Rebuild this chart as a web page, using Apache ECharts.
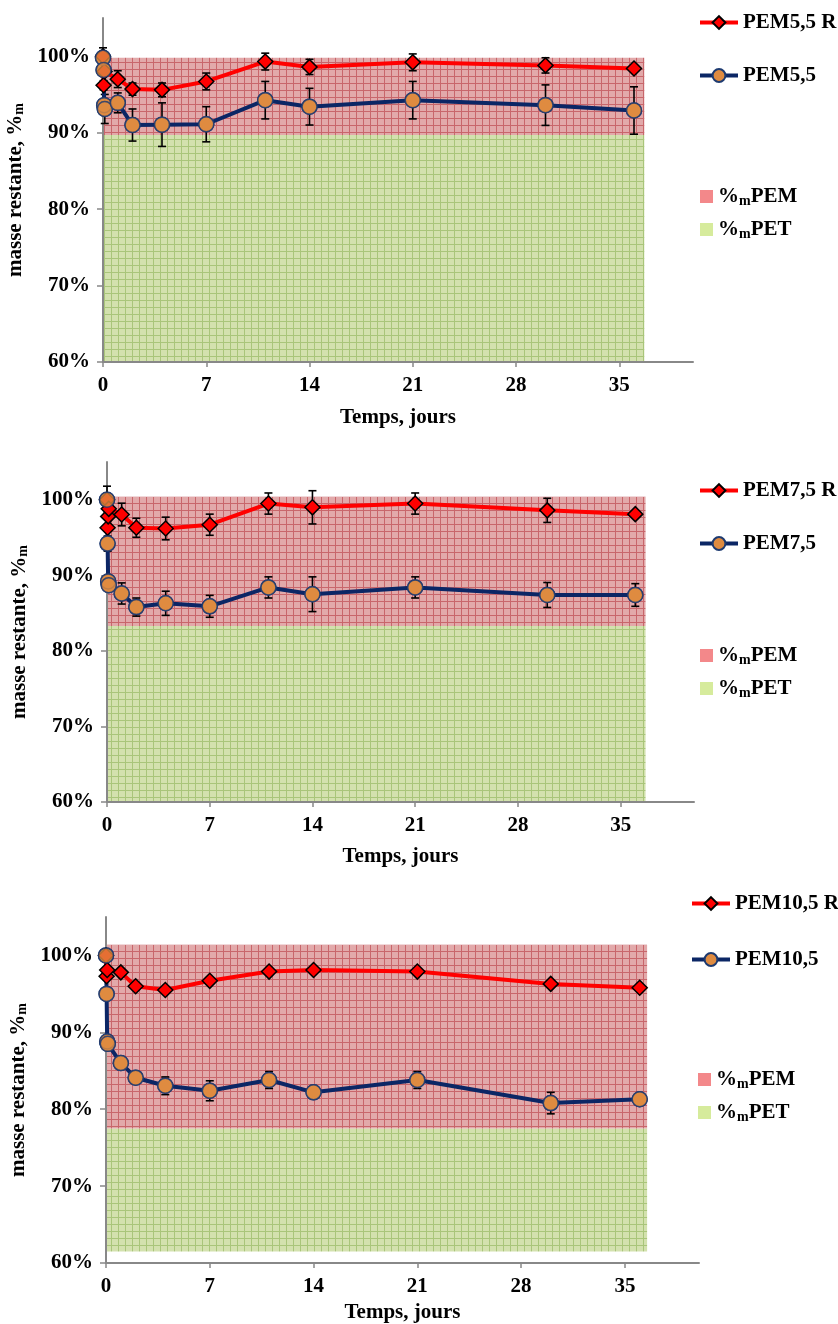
<!DOCTYPE html>
<html><head><meta charset="utf-8">
<script src="https://cdn.jsdelivr.net/npm/echarts@6/dist/echarts.min.js"></script>
<style>html,body{margin:0;padding:0;background:#fff}#c{width:838px;height:1324px}</style>
</head><body><div id="c"></div>
<script>
// ---------- data ----------
const xTicks = [0, 7, 14, 21, 28, 35];
const yTicks = [60, 70, 80, 90, 100];
const bandNames = ['%mPEM', '%mPET'];

// chart 1 : PEM5,5
const names1 = ['PEM5,5 R', 'PEM5,5'];
const daysR1 = [0, 0.04, 0.1, 1, 2, 4, 7, 11, 14, 21, 30, 36];
const valR1 = [100, 96.2, 98.0, 97.0, 95.7, 95.6, 96.7, 99.3, 98.6, 99.2, 98.8, 98.4];
const errR1 = [0, 0.6, 0, 1.1, 0.8, 0.9, 1.1, 1.1, 1.0, 1.1, 1.0, 0];
const daysB1 = [0, 0.04, 0.08, 0.12, 1, 2, 4, 7, 11, 14, 21, 30, 36];
const valB1 = [99.8, 98.2, 93.6, 93.1, 93.9, 91.0, 91.05, 91.1, 94.25, 93.4, 94.25, 93.6, 92.9];
const errB1 = [1.3, 0, 0, 1.9, 1.3, 2.1, 2.85, 2.3, 2.45, 2.4, 2.45, 2.65, 3.1];
const band1 = [60, 89.7, 99.8];   // base, PET top, PEM top
const bandEnd1 = 36.7;

// chart 2 : PEM7,5
const names2 = ['PEM7,5 R', 'PEM7,5'];
const daysR2 = [0, 0.04, 0.08, 0.12, 1, 2, 4, 7, 11, 14, 21, 30, 36];
const valR2 = [100, 96.3, 97.8, 98.8, 98.05, 96.3, 96.2, 96.7, 99.5, 99.0, 99.5, 98.6, 98.1];
const errR2 = [0, 0, 0, 0, 1.5, 1.26, 1.5, 1.4, 1.4, 2.2, 1.4, 1.6, 0];
const daysB2 = [0, 0.04, 0.08, 0.12, 1, 2, 4, 7, 11, 14, 21, 30, 36];
const valB2 = [100, 94.2, 89.2, 88.7, 87.6, 85.8, 86.3, 85.9, 88.4, 87.5, 88.4, 87.4, 87.4];
const errB2 = [1.8, 1.0, 0, 0.8, 1.4, 1.2, 1.6, 1.45, 1.4, 2.3, 1.4, 1.65, 1.5];
const band2 = [60, 83.3, 100.4];
const bandEnd2 = 36.7;

// chart 3 : PEM10,5
const names3 = ['PEM10,5 R', 'PEM10,5'];
const daysR3 = [0, 0.04, 0.08, 1, 2, 4, 7, 11, 14, 21, 30, 36];
const valR3 = [100, 97.3, 98.1, 97.8, 96.0, 95.5, 96.7, 97.9, 98.1, 97.9, 96.3, 95.8];
const errR3 = [0, 0, 0, 0, 0, 0, 0, 0, 0, 0, 0, 0];
const daysB3 = [0, 0.04, 0.08, 0.12, 1, 2, 4, 7, 11, 14, 21, 30, 36];
const valB3 = [100, 95.0, 88.8, 88.5, 86.0, 84.1, 83.05, 82.4, 83.8, 82.2, 83.8, 80.8, 81.3];
const errB3 = [0, 0, 0, 0, 0.5, 0.6, 1.15, 1.3, 1.1, 0, 1.1, 1.4, 0];
const band3 = [61.5, 77.5, 101.4];
const bandEnd3 = 36.5;

// ---------- layout ----------
const grids = [
  {left: 103, top: 18, width: 590, height: 344, outerBoundsMode: 'none'},
  {left: 107, top: 462, width: 587, height: 340, outerBoundsMode: 'none'},
  {left: 106, top: 917, width: 593, height: 346, outerBoundsMode: 'none'}
];
const xNameGaps = [45, 44, 39];
const lineLegendPos = [[698, 12, 32], [698, 480, 32], [690, 893, 35]];
const bandLegendPos = [[700, 186], [700, 645], [698, 1069]];

const FONT = 'Liberation Serif';
const FS = 21;
const RED = '#ff0000', NAVY = '#0b2665', ORANGE = '#df8b40';

function gridPattern(bg, line, step) {
  const c = document.createElement('canvas');
  c.width = step; c.height = step;
  const g = c.getContext('2d');
  g.fillStyle = bg; g.fillRect(0, 0, step, step);
  g.fillStyle = line;
  g.fillRect(step - 1, 0, 1, step);
  g.fillRect(0, step - 1, step, 1);
  return {image: c, repeat: 'repeat'};
}
const pemPattern = gridPattern('#e2a9aa', '#c8666b', 7);
const petPattern = gridPattern('#d3e1ae', '#a9c57a', 7);

function renderErr(params, api) {
  const x = api.value(0), y = api.value(1), e = api.value(2);
  const t = api.coord([x, y + e]), b = api.coord([x, y - e]);
  const w = 4;
  const st = {stroke: '#000', lineWidth: 1.6};
  return {type: 'group', children: [
    {type: 'line', shape: {x1: t[0], y1: t[1], x2: b[0], y2: b[1]}, style: st},
    {type: 'line', shape: {x1: t[0] - w, y1: t[1], x2: t[0] + w, y2: t[1]}, style: st},
    {type: 'line', shape: {x1: b[0] - w, y1: b[1], x2: b[0] + w, y2: b[1]}, style: st}
  ]};
}
function bandRenderer(pattern) {
  return function (params, api) {
    const p0 = api.coord([api.value(0), api.value(2)]);
    const p1 = api.coord([api.value(1), api.value(3)]);
    return {type: 'rect', shape: {x: p0[0], y: p1[1], width: p1[0] - p0[0], height: p0[1] - p1[1]},
      style: {fill: pattern}};
  };
}
const zip = (xs, ys) => xs.map((x, i) => [x, ys[i]]);
const zipErr = (xs, ys, es) => xs.map((x, i) => [x, ys[i], es[i]]).filter(d => d[2] > 0);

const subRich = {sub: {fontFamily: FONT, fontWeight: 'bold', fontSize: 14, color: '#000', padding: [9, 0, 0, 0]}};

const option = {animation: false, grid: [], xAxis: [], yAxis: [], series: [], legend: []};

const charts = [
  {names: names1, dR: daysR1, vR: valR1, eR: errR1, dB: daysB1, vB: valB1, eB: errB1, band: band1, end: bandEnd1},
  {names: names2, dR: daysR2, vR: valR2, eR: errR2, dB: daysB2, vB: valB2, eB: errB2, band: band2, end: bandEnd2},
  {names: names3, dR: daysR3, vR: valR3, eR: errR3, dB: daysB3, vB: valB3, eB: errB3, band: band3, end: bandEnd3}
];

const blueItem = {color: ORANGE, borderColor: '#1d3a70', borderWidth: 1.5};
const redItem = {color: RED, borderColor: '#000', borderWidth: 1.5};

charts.forEach((c, i) => {
  option.grid.push(grids[i]);
  option.xAxis.push({
    type: 'value', gridIndex: i, min: 0, max: 40,
    name: 'Temps, jours', nameLocation: 'middle', nameGap: xNameGaps[i],
    nameTextStyle: {fontFamily: FONT, fontWeight: 'bold', fontSize: FS, color: '#000'},
    axisLine: {show: true, onZero: false, lineStyle: {color: '#888', width: 2}},
    axisTick: {show: true, customValues: xTicks, length: 5, lineStyle: {color: '#888', width: 1.5}},
    axisLabel: {customValues: xTicks, margin: 13, fontFamily: FONT, fontWeight: 'bold', fontSize: FS, color: '#000'},
    splitLine: {show: false}
  });
  option.yAxis.push({
    type: 'value', gridIndex: i, min: 60, max: 105,
    name: 'masse restante, %{sub|m}', nameLocation: 'middle', nameGap: 65,
    nameTextStyle: {fontFamily: FONT, fontWeight: 'bold', fontSize: FS, color: '#000', rich: subRich},
    axisLine: {show: true, lineStyle: {color: '#888', width: 2}},
    axisTick: {show: true, customValues: yTicks, length: 6, lineStyle: {color: '#888', width: 1.5}},
    axisLabel: {customValues: yTicks, margin: 13, formatter: v => v + '%',
      fontFamily: FONT, fontWeight: 'bold', fontSize: FS, color: '#000'},
    splitLine: {show: false}
  });
  // bands
  option.series.push({
    type: 'custom', name: bandNames[1], xAxisIndex: i, yAxisIndex: i, z: 0,
    itemStyle: {color: '#d6eb9c'}, encode: {x: [0, 1], y: [2, 3]},
    data: [[0, c.end, c.band[0], c.band[1]]], renderItem: bandRenderer(petPattern), silent: true
  });
  option.series.push({
    type: 'custom', name: bandNames[0], xAxisIndex: i, yAxisIndex: i, z: 0,
    itemStyle: {color: '#f3888a'}, encode: {x: [0, 1], y: [2, 3]},
    data: [[0, c.end, c.band[1], c.band[2]]], renderItem: bandRenderer(pemPattern), silent: true
  });
  // error bars
  option.series.push({type: 'custom', xAxisIndex: i, yAxisIndex: i, z: 1, encode: {x: 0, y: 1},
    data: zipErr(c.dB, c.vB, c.eB), renderItem: renderErr, silent: true});
  option.series.push({type: 'custom', xAxisIndex: i, yAxisIndex: i, z: 1, encode: {x: 0, y: 1},
    data: zipErr(c.dR, c.vR, c.eR), renderItem: renderErr, silent: true});
  // lines
  option.series.push({
    type: 'line', name: c.names[1], xAxisIndex: i, yAxisIndex: i, z: 2,
    data: zip(c.dB, c.vB), symbol: 'circle', symbolSize: 15, showAllSymbol: true,
    lineStyle: {color: NAVY, width: 4}, itemStyle: blueItem
  });
  option.series.push({
    type: 'line', name: c.names[0], xAxisIndex: i, yAxisIndex: i, z: 3,
    data: zip(c.dR, c.vR), symbol: 'diamond', symbolSize: 15, showAllSymbol: true,
    lineStyle: {color: RED, width: 4}, itemStyle: redItem
  });
  // blue markers drawn above the red series
  option.series.push({
    type: 'scatter', xAxisIndex: i, yAxisIndex: i, z: 5, silent: true,
    data: zip(c.dB, c.vB), symbol: 'circle', symbolSize: 15, itemStyle: blueItem
  });
  // legends
  option.legend.push({
    data: c.names, orient: 'vertical', left: lineLegendPos[i][0], top: lineLegendPos[i][1], padding: 0,
    itemWidth: 38, itemHeight: 16, itemGap: lineLegendPos[i][2], selectedMode: false,
    lineStyle: {width: 4},
    textStyle: {fontFamily: FONT, fontWeight: 'bold', fontSize: FS, color: '#000'}
  });
  option.legend.push({
    data: bandNames, orient: 'vertical', left: bandLegendPos[i][0], top: bandLegendPos[i][1], padding: 0,
    icon: 'rect', itemWidth: 13, itemHeight: 13, itemGap: 11, itemStyle: {borderWidth: 0}, selectedMode: false,
    formatter: n => n.replace('%m', '%{sub|m}'),
    textStyle: {fontFamily: FONT, fontWeight: 'bold', fontSize: FS, color: '#000', rich: subRich}
  });
});

const chart = echarts.init(document.getElementById('c'), null, {renderer: 'canvas'});
chart.setOption(option);
</script>
</body></html>
